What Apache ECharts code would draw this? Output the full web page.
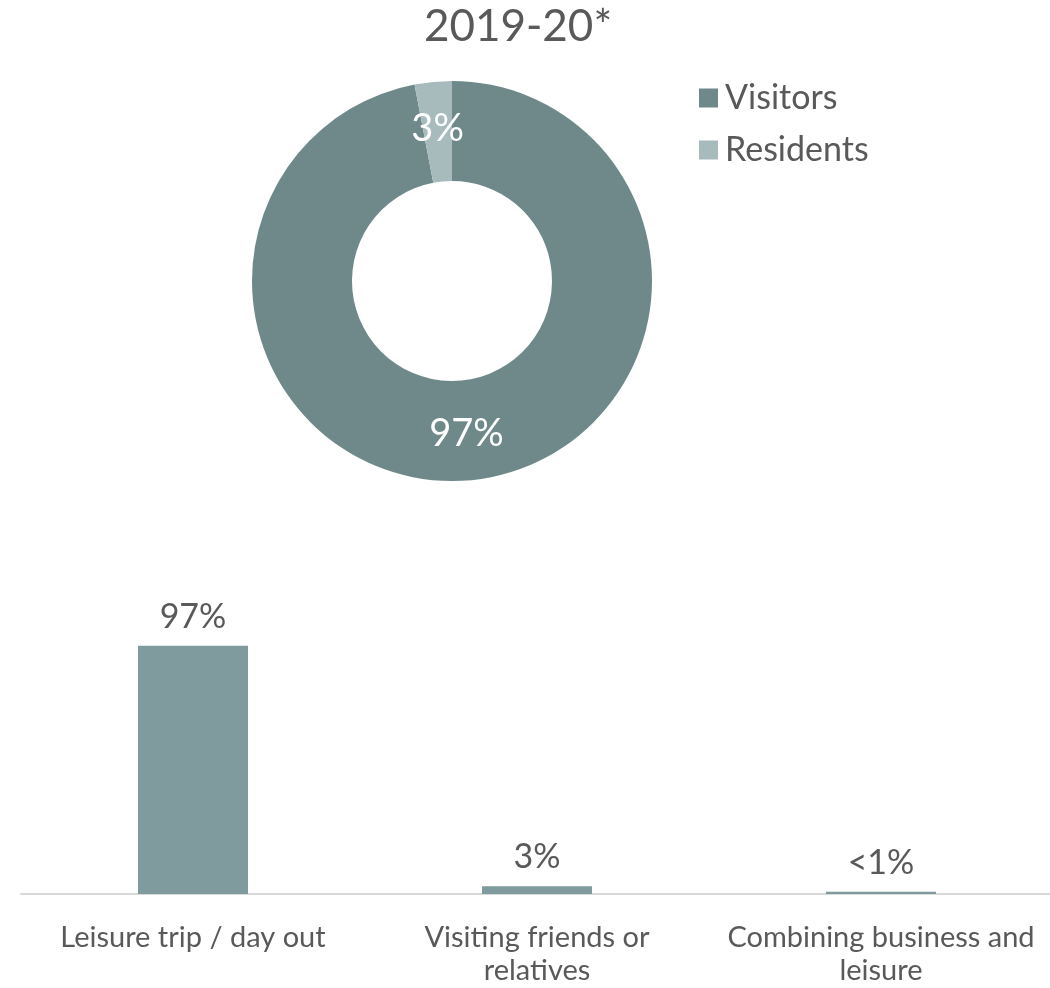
<!DOCTYPE html>
<html>
<head>
<meta charset="utf-8">
<script src="https://cdn.jsdelivr.net/npm/echarts@6/dist/echarts.min.js"></script>
<style>
  html, body { margin: 0; padding: 0; background: #ffffff; overflow: hidden; }
  #chart { width: 1050px; height: 988px; display: block; }
</style>
</head>
<body>
<div id="chart"></div>
<script>
// Visitor split for the year
const pieTitle = '2019-20*';
const pieNames = ['Visitors', 'Residents'];
const pieValues = [97, 3];
const pieLabels = ['97%', '3%'];

// Purpose of visit
const barCategories = ['Leisure trip / day out', 'Visiting friends or\nrelatives', 'Combining business and\nleisure'];
const barValues = [97, 3, 0.9];
const barLabels = ['97%', '3%', '<1%'];

const FONT = 'Lato';
const TEXT = '#595959';
const pieColors = ['#6F898B', '#A7BBBD'];
const barColor = '#7F9B9D';

const chart = echarts.init(document.getElementById('chart'), null, { renderer: 'canvas' });

chart.setOption({
  animation: false,
  backgroundColor: '#ffffff',
  textStyle: { fontFamily: FONT },
  title: {
    text: pieTitle,
    left: 513,
    top: 0,
    textAlign: 'center',
    textStyle: { fontFamily: FONT, fontSize: 44, fontWeight: 'normal', color: TEXT }
  },
  legend: {
    data: pieNames,
    orient: 'vertical',
    left: 694,
    top: 76,
    icon: 'rect',
    itemWidth: 19,
    itemHeight: 19,
    itemGap: 18,
    textStyle: { fontFamily: FONT, fontSize: 34, color: TEXT, padding: [0, 0, 0, 2] }
  },
  // the plot area runs a little past the right edge of the canvas
  grid: { left: 21, width: 1032, top: 638, height: 256, containLabel: false, outerBoundsMode: 'none' },
  xAxis: {
    type: 'category',
    data: barCategories,
    axisLine: { lineStyle: { color: '#D9D9D9', width: 2 } },
    axisTick: { show: false },
    axisLabel: {
      fontFamily: FONT, fontSize: 29, color: TEXT, margin: 27, lineHeight: 33,
      interval: 0
    }
  },
  yAxis: {
    type: 'value',
    min: 0,
    max: 100,
    show: false
  },
  series: [
    {
      type: 'pie',
      center: [452, 281],
      radius: [100, 200],
      startAngle: 90,
      clockwise: true,
      avoidLabelOverlap: false,
      label: {
        show: true,
        position: 'inside',
        fontFamily: FONT,
        fontSize: 38,
        color: '#ffffff',
        formatter: p => pieLabels[p.dataIndex]
      },
      labelLine: { show: false },
      emphasis: { disabled: true },
      data: pieNames.map((n, i) => ({ name: n, value: pieValues[i], itemStyle: { color: pieColors[i] } }))
    },
    {
      type: 'bar',
      data: barValues,
      barWidth: 110,
      itemStyle: { color: barColor },
      label: {
        show: true,
        position: 'top',
        distance: 12,
        fontFamily: FONT,
        fontSize: 34,
        color: TEXT,
        formatter: p => barLabels[p.dataIndex]
      }
    }
  ]
});
</script>
</body>
</html>
